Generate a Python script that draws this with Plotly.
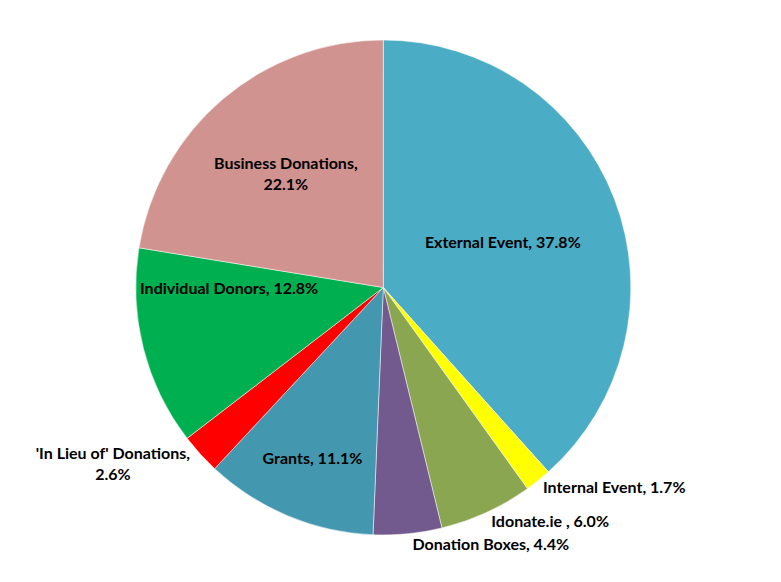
import plotly.graph_objects as go

# fundraising sources, clockwise from 12 o'clock
sources = ["External Event", "Internal Event", "Idonate.ie ", "Donation Boxes",
           "Grants", "'In Lieu of' Donations", "Individual Donors", "Business Donations"]
shares = [37.8, 1.7, 6.0, 4.4, 11.1, 2.6, 12.8, 22.1]
label_text = ["External Event, 37.8%", "Internal Event, 1.7%", "Idonate.ie , 6.0%",
              "Donation Boxes, 4.4%", "Grants, 11.1%", "'In Lieu of' Donations,<br>2.6%",
              "Individual Donors, 12.8%", "Business Donations,<br>22.1%"]
positions = ["inside", "outside", "outside", "outside",
             "inside", "outside", "inside", "inside"]
colours = ["#4BACC6", "#FFFF00", "#8BA650", "#725A8F",
           "#4398B0", "#FF0000", "#00B050", "#D09390"]

fig = go.Figure(go.Pie(
    labels=sources,
    values=shares,
    text=label_text,
    texttemplate="%{text}",
    textposition=positions,
    insidetextorientation="horizontal",
    sort=False,
    direction="clockwise",
    rotation=0,
    domain=dict(x=[0, 0.778], y=[0, 1]),
    marker=dict(colors=colours, line=dict(color="white", width=0.5)),
    textfont=dict(family="Lato", size=16, color="black", weight="bold"),
    hoverinfo="label+percent",
    showlegend=False,
))

fig.update_layout(
    width=781,
    height=582,
    paper_bgcolor="white",
    plot_bgcolor="white",
    margin=dict(l=0, r=0, t=32, b=55),
)

fig.write_html("out.html")
